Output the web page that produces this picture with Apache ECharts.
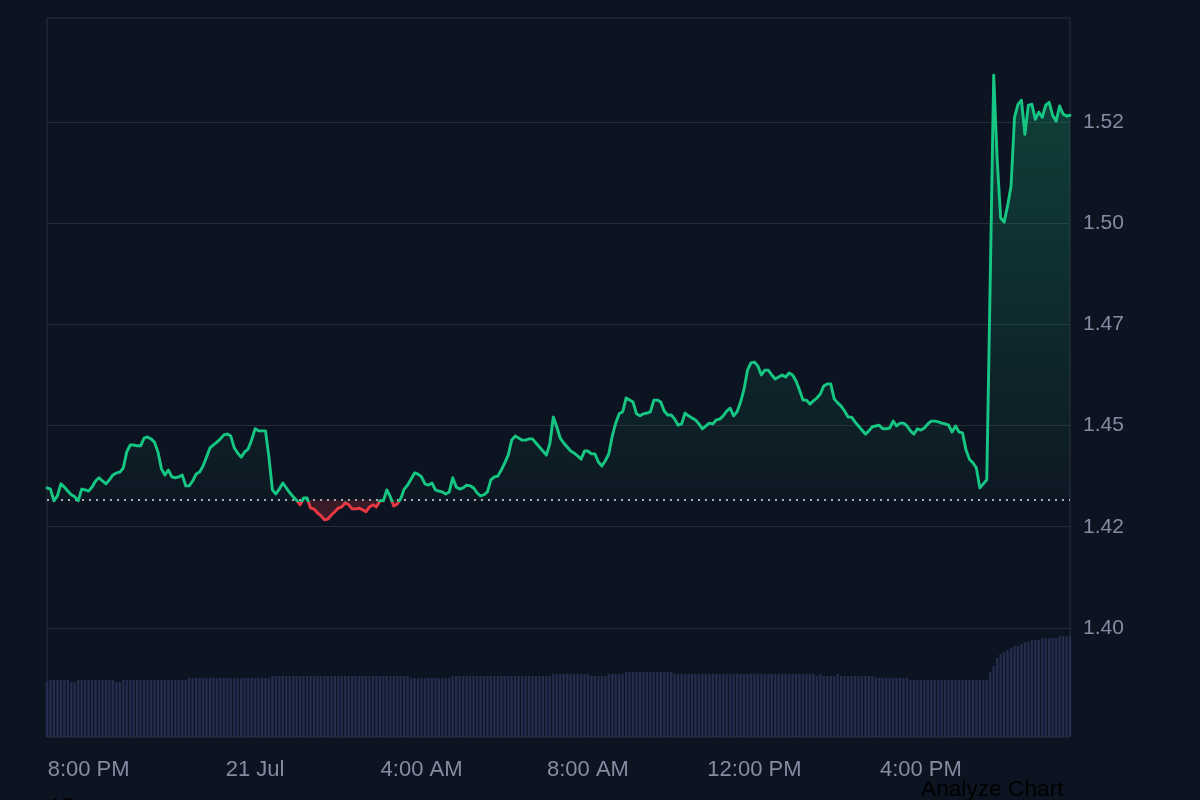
<!DOCTYPE html>
<html>
<head>
<meta charset="utf-8">
<script src="https://cdn.jsdelivr.net/npm/echarts@6/dist/echarts.min.js"></script>
<style>
  html, body { margin: 0; padding: 0; background: #0d1421; }
  #chart { width: 1200px; height: 800px; }
</style>
</head>
<body>
<div id="chart"></div>
<script>
// ---- data (5-minute samples, from 20 Jul 7:00 PM) ----
const startMinutes = 19 * 60;
const stepMinutes = 5;
const baseline = 1.4316;

const price = [
  1.4346,1.4343,1.4314,1.4326,1.4356,1.4348,1.4338,1.4329,1.4324,1.4314,1.4343,1.4341,
  1.4338,1.4348,1.4363,1.4371,1.4363,1.4356,1.4366,1.4378,1.4383,1.4385,1.4395,1.4435,
  1.4452,1.4452,1.4450,1.4450,1.4469,1.4472,1.4467,1.4459,1.4435,1.4393,1.4378,1.4390,
  1.4373,1.4371,1.4373,1.4378,1.4351,1.4351,1.4363,1.4380,1.4385,1.4400,1.4422,1.4445,
  1.4452,1.4459,1.4467,1.4477,1.4479,1.4474,1.4445,1.4432,1.4422,1.4435,1.4442,1.4464,
  1.4492,1.4487,1.4487,1.4487,1.4422,1.4341,1.4331,1.4343,1.4358,1.4346,1.4334,1.4324,
  1.4315,1.4304,1.4321,1.4321,1.4296,1.4294,1.4284,1.4277,1.4267,1.4269,1.4279,1.4287,
  1.4296,1.4299,1.4309,1.4304,1.4294,1.4294,1.4296,1.4292,1.4287,1.4299,1.4304,1.4299,
  1.4314,1.4314,1.4341,1.4324,1.4301,1.4306,1.4319,1.4343,1.4353,1.4368,1.4383,1.4380,
  1.4373,1.4356,1.4353,1.4358,1.4341,1.4338,1.4336,1.4331,1.4336,1.4371,1.4348,1.4343,
  1.4346,1.4353,1.4351,1.4346,1.4334,1.4326,1.4329,1.4336,1.4366,1.4373,1.4375,1.4390,
  1.4408,1.4427,1.4464,1.4474,1.4469,1.4464,1.4464,1.4467,1.4467,1.4457,1.4447,1.4437,
  1.4427,1.4455,1.4521,1.4497,1.4469,1.4457,1.4447,1.4437,1.4432,1.4425,1.4417,1.4437,
  1.4437,1.4430,1.4430,1.4410,1.4400,1.4413,1.4430,1.4474,1.4506,1.4529,1.4534,1.4568,
  1.4563,1.4558,1.4529,1.4524,1.4529,1.4531,1.4534,1.4563,1.4563,1.4558,1.4536,1.4526,
  1.4526,1.4516,1.4501,1.4504,1.4531,1.4524,1.4519,1.4514,1.4504,1.4492,1.4499,1.4506,
  1.4504,1.4514,1.4516,1.4524,1.4536,1.4543,1.4524,1.4534,1.4558,1.4590,1.4637,1.4655,
  1.4657,1.4647,1.4625,1.4637,1.4637,1.4625,1.4615,1.4620,1.4625,1.4620,1.4630,1.4625,
  1.4610,1.4588,1.4563,1.4563,1.4553,1.4561,1.4568,1.4578,1.4598,1.4603,1.4603,1.4566,
  1.4556,1.4548,1.4536,1.4521,1.4521,1.4509,1.4499,1.4489,1.4479,1.4487,1.4497,1.4499,
  1.4501,1.4492,1.4492,1.4494,1.4511,1.4499,1.4506,1.4506,1.4499,1.4487,1.4479,1.4492,
  1.4489,1.4494,1.4504,1.4511,1.4511,1.4509,1.4506,1.4504,1.4501,1.4484,1.4499,1.4484,
  1.4482,1.4440,1.4417,1.4408,1.4395,1.4346,1.4356,1.4366,1.4860,1.5366,1.5156,1.5013,
  1.5003,1.5043,1.5092,1.5262,1.5294,1.5304,1.5220,1.5292,1.5294,1.5257,1.5275,1.5262,
  1.5292,1.5299,1.5267,1.5252,1.5290,1.5270,1.5265,1.5267
];

const volume = [
  5.5,5.7,5.7,5.7,5.7,5.7,5.7,5.5,5.5,5.7,5.7,5.7,
  5.7,5.7,5.7,5.7,5.7,5.7,5.7,5.7,5.5,5.5,5.7,5.7,
  5.7,5.7,5.7,5.7,5.7,5.7,5.7,5.7,5.7,5.7,5.7,5.7,
  5.7,5.7,5.7,5.7,5.7,5.9,5.9,5.9,5.9,5.9,5.9,5.9,
  5.9,5.9,5.9,5.9,5.9,5.9,5.9,5.9,5.9,5.9,5.9,5.9,
  5.9,5.9,5.9,5.9,5.9,6.1,6.1,6.1,6.1,6.1,6.1,6.1,
  6.1,6.1,6.1,6.1,6.1,6.1,6.1,6.1,6.1,6.1,6.1,6.1,
  6.1,6.1,6.1,6.1,6.1,6.1,6.1,6.1,6.1,6.1,6.1,6.1,
  6.1,6.1,6.1,6.1,6.1,6.1,6.1,6.1,6.1,5.9,5.9,5.9,
  5.9,5.9,5.9,5.9,5.9,5.9,5.9,5.9,5.9,6.1,6.1,6.1,
  6.1,6.1,6.1,6.1,6.1,6.1,6.1,6.1,6.1,6.1,6.1,6.1,
  6.1,6.1,6.1,6.1,6.1,6.1,6.1,6.1,6.1,6.1,6.1,6.1,
  6.1,6.1,6.3,6.3,6.3,6.3,6.3,6.3,6.3,6.3,6.3,6.3,
  6.3,6.1,6.1,6.1,6.1,6.1,6.3,6.3,6.3,6.3,6.3,6.5,
  6.5,6.5,6.5,6.5,6.5,6.5,6.5,6.5,6.5,6.5,6.5,6.5,
  6.5,6.3,6.3,6.3,6.3,6.3,6.3,6.3,6.3,6.3,6.3,6.3,
  6.3,6.3,6.3,6.3,6.3,6.3,6.3,6.3,6.3,6.3,6.3,6.3,
  6.3,6.3,6.3,6.3,6.3,6.3,6.3,6.3,6.3,6.3,6.3,6.3,
  6.3,6.3,6.3,6.3,6.3,6.3,6.1,6.3,6.1,6.1,6.1,6.1,
  6.3,6.1,6.1,6.1,6.1,6.1,6.1,6.1,6.1,6.1,6.1,5.9,
  5.9,5.9,5.9,5.9,5.9,5.9,5.9,5.9,5.9,5.7,5.7,5.7,
  5.7,5.7,5.7,5.7,5.7,5.7,5.7,5.7,5.7,5.7,5.7,5.7,
  5.7,5.7,5.7,5.7,5.7,5.7,5.7,5.7,6.5,7.1,7.9,8.3,
  8.5,8.7,8.9,9.1,9.1,9.3,9.5,9.5,9.7,9.7,9.7,9.9,
  9.9,9.9,9.9,9.9,10.1,10.1,10.1,10.1
];

const priceTickLabels = ['1.40', '1.42', '1.45', '1.47', '1.50', '1.52'];
const priceTickStart = 1.40;
const priceTickStep = 0.025;
const monthName = 'Jul';
const startDay = 20;

// ---- categories (timestamps) ----
function pad(n) { return (n < 10 ? '0' : '') + n; }
const categories = price.map((_, i) => {
  const total = startMinutes + stepMinutes * i;
  const day = startDay + Math.floor(total / 1440);
  const m = total % 1440;
  return day + ' ' + monthName + ' ' + pad(Math.floor(m / 60)) + ':' + pad(m % 60);
});
function parseCat(v) {
  const parts = v.split(' ');
  const hm = parts[2].split(':').map(Number);
  return { day: parts[0], mon: parts[1], h: hm[0], mm: hm[1] };
}

const GREEN = '#16c784';
const RED = '#ea3943';
const TEXT = '#858ca2';
const LINE = '#262b38';
const FONT = '"Liberation Sans", Arial, Helvetica, sans-serif';

const maxP = Math.max.apply(null, price);
const minP = Math.min.apply(null, price);
const baseOff = (maxP - baseline) / (maxP - minP);

const chart = echarts.init(document.getElementById('chart'), null, { renderer: 'canvas' });

chart.setOption({
  animation: false,
  backgroundColor: '#0d1421',
  grid: [
    { left: 47, right: 130, top: 21, height: 708, outerBoundsMode: 'none' },
    { left: 47, right: 130, top: 18, bottom: 63, show: true, borderColor: '#2a2f3c', borderWidth: 1, backgroundColor: 'transparent', outerBoundsMode: 'none' }
  ],
  xAxis: [
    { type: 'category', gridIndex: 0, data: categories, boundaryGap: false, show: false },
    {
      type: 'category', gridIndex: 1, data: categories, boundaryGap: false,
      axisLine: { show: false }, axisTick: { show: false }, splitLine: { show: false },
      axisLabel: {
        color: TEXT, fontSize: 22, fontFamily: FONT, margin: 22,
        interval: function (idx, val) { const c = parseCat(val); return c.mm === 0 && c.h % 4 === 0; },
        formatter: function (val) {
          const c = parseCat(val);
          if (c.h === 0) return c.day + ' ' + c.mon;
          const h12 = c.h % 12 || 12;
          return h12 + ':00 ' + (c.h < 12 ? 'AM' : 'PM');
        }
      }
    }
  ],
  yAxis: [
    {
      type: 'value', gridIndex: 0, position: 'right',
      min: 1.375, max: 1.55, interval: priceTickStep,
      axisLine: { show: false }, axisTick: { show: false },
      splitLine: { show: true, showMinLine: false, showMaxLine: false, lineStyle: { color: LINE, width: 1 } },
      axisLabel: {
        color: TEXT, fontSize: 21, fontFamily: FONT, margin: 13,
        formatter: function (v) {
          const k = Math.round((v - priceTickStart) / priceTickStep);
          return (k >= 0 && k < priceTickLabels.length) ? priceTickLabels[k] : '';
        }
      }
    },
    {
      type: 'value', gridIndex: 1, min: 0, max: 71.9, show: false,
      splitLine: { show: false }
    }
  ],
  series: [
    {
      type: 'line', xAxisIndex: 0, yAxisIndex: 0, data: price,
      symbol: 'none', smooth: false, z: 5,
      lineStyle: {
        width: 2.9, join: 'round', cap: 'round',
        color: new echarts.graphic.LinearGradient(0, 0, 0, 1, [
          { offset: 0, color: GREEN },
          { offset: baseOff, color: GREEN },
          { offset: baseOff, color: RED },
          { offset: 1, color: RED }
        ])
      },
      areaStyle: {
        origin: baseline,
        color: new echarts.graphic.LinearGradient(0, 0, 0, 1, [
          { offset: 0, color: 'rgba(22,199,132,0.36)' },
          { offset: baseOff, color: 'rgba(22,199,132,0.03)' },
          { offset: baseOff, color: 'rgba(234,57,67,0.26)' },
          { offset: 1, color: 'rgba(234,57,67,0.32)' }
        ])
      },
      markLine: {
        silent: true, symbol: ['none', 'none'], animation: false,
        precision: 4,
        label: { show: false },
        lineStyle: { color: '#a9aeb9', type: [2, 5], width: 2 },
        emphasis: { disabled: true },
        data: [{ yAxis: baseline }]
      }
    },
    {
      type: 'bar', xAxisIndex: 1, yAxisIndex: 1, data: volume,
      barWidth: '68%', z: 1,
      itemStyle: { color: '#232d4e' },
      emphasis: { disabled: true }
    }
  ],
  graphic: [
    { type: 'text', left: 49, top: 795, z: 100, style: { text: '13', fill: '#000000', font: '22.7px ' + FONT } },
    { type: 'text', left: 921, top: 778, z: 100, style: { text: 'Analyze Chart', fill: '#000000', font: '22.7px ' + FONT } }
  ]
});
</script>
</body>
</html>
